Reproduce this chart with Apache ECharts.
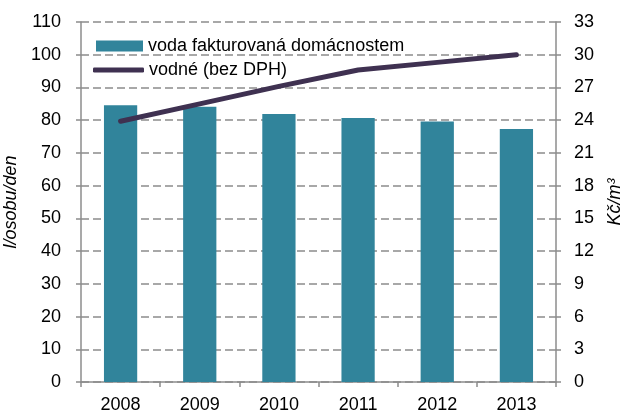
<!DOCTYPE html>
<html><head><meta charset="utf-8">
<script src="https://cdn.jsdelivr.net/npm/echarts@6/dist/echarts.min.js"></script>
<style>html,body{margin:0;padding:0;background:#fff}#c{width:625px;height:414px}</style>
</head><body><div id="c"></div>
<script>
const years = ['2008','2009','2010','2011','2012','2013'];
const waterUse = [84.6, 84.1, 81.9, 80.7, 79.6, 77.3];
const waterPrice = [23.9, 25.5, 27.1, 28.6, 29.3, 30.0];
const leftTicks = {min:0, max:110, interval:10};
const rightTicks = {min:0, max:33, interval:3};
const barName = 'voda fakturovaná domácnostem';
const lineName = 'vodné (bez DPH)';

const F = '"Liberation Sans", Arial, sans-serif';
const axisCol = '#8c8c8c';
const chart = echarts.init(document.getElementById('c'));
chart.setOption({
  animation:false,
  textStyle:{fontFamily:F},
  grid:{left:81,right:69,top:22,bottom:32,containLabel:false,outerBoundsMode:'none'},
  legend:[
    {data:[barName], left:91, top:32, icon:'rect', itemWidth:47, itemHeight:11, itemGap:6,
     textStyle:{fontSize:18,color:'#000',fontFamily:F}},
    {data:[lineName], left:88, top:56, icon:'roundRect', itemWidth:51, itemHeight:5,
     textStyle:{fontSize:18,color:'#000',fontFamily:F}}
  ],
  xAxis:{type:'category', data:years,
    axisLine:{lineStyle:{color:axisCol,width:1.5}},
    axisTick:{show:true,length:5,lineStyle:{color:axisCol,width:1.5}},
    axisLabel:{color:'#000',fontSize:18,margin:14}},
  yAxis:[
    {type:'value', min:leftTicks.min, max:leftTicks.max, interval:leftTicks.interval,
     name:'l/osobu/den', nameLocation:'middle', nameGap:52, nameRotate:90,
     nameTextStyle:{fontSize:18,fontStyle:'italic',color:'#000'},
     axisLine:{show:true,lineStyle:{color:axisCol,width:1.5}},
     axisTick:{show:true,length:5,lineStyle:{color:axisCol,width:1.5}},
     axisLabel:{color:'#000',fontSize:18,margin:20},
     splitLine:{show:true,lineStyle:{color:axisCol,type:[8,4],width:1.5}}},
    {type:'value', min:rightTicks.min, max:rightTicks.max, interval:rightTicks.interval,
     name:'Kč/m³', nameLocation:'middle', nameGap:50, nameRotate:90,
     nameTextStyle:{fontSize:18,fontStyle:'italic',color:'#000'},
     axisLine:{show:true,lineStyle:{color:axisCol,width:1.5}},
     axisTick:{show:true,length:5,lineStyle:{color:axisCol,width:1.5}},
     axisLabel:{color:'#000',fontSize:18,margin:18},
     splitLine:{show:false}}
  ],
  series:[
    {name:barName, type:'bar', data:waterUse, barWidth:'42%', itemStyle:{color:'#31849B'}},
    {name:lineName, type:'line', yAxisIndex:1, data:waterPrice, symbol:'none', showSymbol:false,
     lineStyle:{color:'#3F3151',width:5,cap:'round',join:'round'}, itemStyle:{color:'#3F3151'}}
  ]
});
</script></body></html>
